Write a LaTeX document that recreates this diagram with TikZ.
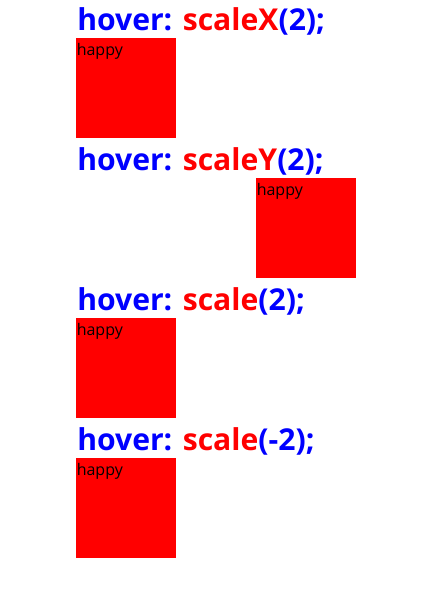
\documentclass[tikz,border=0pt]{standalone}
\usepackage{fontspec}
\setmainfont{Open Sans}
\definecolor{pblue}{RGB}{0,0,255}
\definecolor{pred}{RGB}{255,0,0}
\tikzset{
  head/.style={anchor=base west,inner sep=0pt,font=\fontsize{22.6pt}{24pt}\selectfont\bfseries,text=pblue},
  sq/.style={anchor=north west,fill=pred,draw=none,minimum width=75pt,minimum height=75pt,inner sep=0pt},
  lab/.style={anchor=base west,inner sep=0pt,font=\fontsize{12pt}{13pt}\selectfont,text=black}
}
\begin{document}
\begin{tikzpicture}[x=0.75pt,y=-0.75pt]
\useasboundingbox[fill=white] (0,0) rectangle (427,607);
\node[head] (h1) at (77,30) {hover: \textcolor{pred}{scaleX}(2);};
\node[sq] (s1) at (76,38) {};
\node[lab] (l1) at (76.5,55) {happy};
\node[head] (h2) at (77,170) {hover: \textcolor{pred}{scaleY}(2);};
\node[sq] (s2) at (256,178) {};
\node[lab] (l2) at (256.5,195) {happy};
\node[head] (h3) at (77,310) {hover: \textcolor{pred}{scale}(2);};
\node[sq] (s3) at (76,318) {};
\node[lab] (l3) at (76.5,335) {happy};
\node[head] (h4) at (77,450) {hover: \textcolor{pred}{scale}(-2);};
\node[sq] (s4) at (76,458) {};
\node[lab] (l4) at (76.5,475) {happy};
\end{tikzpicture}
\end{document}
